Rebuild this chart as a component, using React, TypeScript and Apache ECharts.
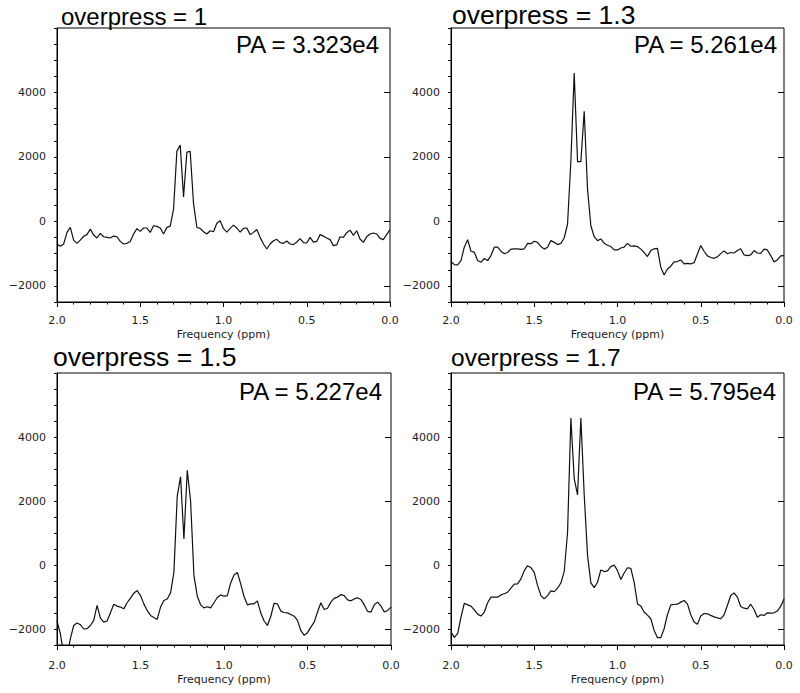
import React, { useEffect, useRef } from "react";
import * as echarts from "echarts";

// Frequency sampling grid (ppm), 2.0 -> 0.0
const PPM: number[] = Array.from({ length: 101 }, (_, i) => +(2 - 0.02 * i).toFixed(2));

const TITLES = ["overpress = 1", "overpress = 1.3", "overpress = 1.5", "overpress = 1.7"];
const PA_LABELS = ["PA = 3.323e4", "PA = 5.261e4", "PA = 5.227e4", "PA = 5.795e4"];
const X_LABELS = [0, 0.5, 1, 1.5, 2];
const Y_MAJOR = [-2000, 0, 2000, 4000];
const X_NAME = "Frequency (ppm)";

const OP_1_0 = [
  -700, -770, -700, -340, -185, -580, -680, -580, -460, -410,
  -240, -420, -515, -370, -475, -495, -515, -455, -475, -620,
  -700, -680, -620, -390, -225, -310, -205, -205, -340, -135,
  -155, -205, -390, -185, -145, 380, 2180, 2370, 760, 2150,
  2170, 550, -190, -215, -320, -390, -290, -320, -60, 20,
  -225, -330, -215, -115, -205, -330, -215, -205, -410, -340,
  -250, -495, -700, -855, -700, -600, -555, -660, -680, -610,
  -700, -720, -640, -535, -660, -670, -495, -640, -620, -410,
  -455, -515, -565, -750, -730, -475, -495, -350, -270, -430,
  -290, -545, -650, -475, -390, -360, -390, -525, -565, -410,
  -255,
];

const OP_1_3 = [
  -1245, -1340, -1350, -1215, -800, -565, -925, -955, -1215, -1265,
  -1150, -1215, -1060, -800, -800, -925, -1005, -965, -860, -850,
  -850, -870, -850, -680, -690, -615, -650, -780, -860, -800,
  -595, -650, -720, -680, -515, -80, 1875, 4600, 1855, 1855,
  3420, 1000, -135, -475, -595, -545, -680, -740, -780, -885,
  -885, -825, -800, -680, -770, -760, -780, -860, -965, -1090,
  -905, -850, -835, -1420, -1660, -1475, -1390, -1255, -1245, -1195,
  -1320, -1300, -1320, -1280, -1010, -750, -925, -1070, -1120, -1145,
  -1100, -1000, -915, -1005, -965, -980, -905, -850, -1040, -1060,
  -1040, -905, -980, -990, -860, -885, -1060, -1255, -1195, -1070,
  -1060,
];

const OP_1_5 = [
  -1750, -2145, -2800, -2850, -2300, -1890, -1815, -1865, -2000, -1990,
  -1890, -1730, -1265, -1660, -1785, -1750, -1495, -1225, -1285, -1315,
  -1370, -1180, -1035, -880, -800, -955, -1215, -1420, -1575, -1640,
  -1700, -1315, -1110, -1060, -870, -230, 2155, 2760, 810, 2960,
  2000, -330, -975, -1245, -1340, -1305, -1340, -1180, -1015, -935,
  -975, -955, -560, -310, -230, -590, -985, -1245, -1215, -1215,
  -1120, -1495, -1750, -1890, -1610, -1195, -1215, -1440, -1485, -1495,
  -1545, -1600, -1730, -2045, -2200, -2115, -1940, -1785, -1470, -1180,
  -1390, -1350, -1160, -1035, -1005, -925, -955, -1090, -1120, -1060,
  -1025, -1080, -1245, -1450, -1470, -1245, -1160, -1285, -1470, -1420,
  -1315,
];

const OP_1_7 = [
  -2095, -2260, -2145, -1630, -1195, -1245, -1285, -1400, -1535, -1595,
  -1470, -1180, -1005, -1005, -1005, -935, -900, -850, -725, -600,
  -590, -435, -175, -20, -85, -230, -645, -955, -1060, -955,
  -810, -830, -725, -560, -205, 1015, 4590, 2700, 2190, 4590,
  2200, 300, -560, -705, -540, -155, -205, -185, -50, 0,
  -175, -455, -250, -85, -105, -540, -1215, -1285, -1470, -1565,
  -1680, -2045, -2270, -2270, -1990, -1555, -1245, -1235, -1225, -1160,
  -1110, -1215, -1555, -1785, -1855, -1595, -1515, -1525, -1575, -1620,
  -1650, -1680, -1555, -1265, -955, -870, -1005, -1295, -1350, -1370,
  -1225, -1390, -1630, -1555, -1575, -1495, -1505, -1495, -1440, -1295,
  -1060,
];

const SERIES = [OP_1_0, OP_1_3, OP_1_5, OP_1_7];

// layout (pixels)
const GRIDS = [
  { left: 57, top: 28, width: 333, height: 274 },
  { left: 451, top: 28, width: 333, height: 274 },
  { left: 57, top: 373, width: 334, height: 272 },
  { left: 451, top: 373, width: 333, height: 272 },
];
const X_LABEL_MARGIN = [13, 13, 15, 15];
const X_NAME_GAP = [27, 27, 29, 29];
const TITLE_POS = [
  { x: 61, base: 24, size: 24 },
  { x: 452, base: 24, size: 26.5 },
  { x: 53, base: 366, size: 26.5 },
  { x: 451, base: 366, size: 24.5 },
];
const PA_POS = [
  { x: 379, y: 44 },
  { x: 777, y: 44 },
  { x: 382, y: 391 },
  { x: 776, y: 391 },
];

const TICK_FONT = '"DejaVu Sans", Verdana, sans-serif';
const TITLE_FONT = '"Liberation Sans", Arial, Helvetica, sans-serif';
const INK = "#000";

function buildOption() {
  const grid: any[] = [];
  const xAxis: any[] = [];
  const yAxis: any[] = [];
  const series: any[] = [];
  const graphic: any[] = [];

  GRIDS.forEach((g, k) => {
    grid.push({
      ...g,
      show: true,
      borderColor: INK,
      borderWidth: 1,
      backgroundColor: "transparent",
    });
    xAxis.push({
      type: "value",
      gridIndex: k,
      min: 0,
      max: 2,
      interval: 0.5,
      inverse: true,
      position: "bottom",
      axisLine: { show: true, onZero: false, lineStyle: { color: INK, width: 1 } },
      axisTick: { show: true, length: 5, lineStyle: { color: INK, width: 1 } },
      minorTick: { show: true, splitNumber: 5, length: 2.5, lineStyle: { color: INK, width: 1 } },
      splitLine: { show: false },
      minorSplitLine: { show: false },
      axisLabel: {
        margin: X_LABEL_MARGIN[k],
        fontFamily: TICK_FONT,
        fontSize: 11,
        color: "#222",
        formatter: (v: number) => (X_LABELS.some((t) => Math.abs(t - v) < 1e-6) ? v.toFixed(1) : ""),
      },
      name: X_NAME,
      nameLocation: "middle",
      nameGap: X_NAME_GAP[k],
      nameTextStyle: { fontFamily: TICK_FONT, fontSize: 11, color: "#222" },
    });
    yAxis.push({
      type: "value",
      gridIndex: k,
      min: -2500,
      max: 6000,
      interval: 500,
      position: "left",
      axisLine: { show: true, onZero: false, lineStyle: { color: INK, width: 1 } },
      axisTick: { show: true, length: 3, lineStyle: { color: INK, width: 1 } },
      splitLine: { show: false },
      axisLabel: {
        margin: 11,
        fontFamily: TICK_FONT,
        fontSize: 11,
        color: "#222",
        formatter: (v: number) => (Y_MAJOR.indexOf(v) >= 0 ? String(v).replace("-", "\u2212") : ""),
      },
    });
    yAxis.push({
      type: "value",
      gridIndex: k,
      min: -2500,
      max: 6000,
      position: "left",
      axisLine: { show: false },
      axisLabel: { show: false },
      splitLine: { show: false },
      axisTick: { show: true, length: 6, customValues: Y_MAJOR, lineStyle: { color: INK, width: 1 } },
    });
    series.push({
      type: "line",
      xAxisIndex: k,
      yAxisIndex: 2 * k,
      data: PPM.map((p, i) => [p, SERIES[k][i]]),
      showSymbol: false,
      symbol: "none",
      clip: true,
      silent: true,
      lineStyle: { color: "#111", width: 1.2 },
    });
    const t = TITLE_POS[k];
    graphic.push({
      type: "text",
      x: t.x,
      y: t.base - 0.33 * t.size,
      silent: true,
      style: {
        text: TITLES[k],
        font: `${t.size}px ${TITLE_FONT}`,
        fill: INK,
        align: "left",
        textAlign: "left",
        verticalAlign: "middle",
        textVerticalAlign: "middle",
      },
    });
    const p = PA_POS[k];
    graphic.push({
      type: "text",
      x: p.x,
      y: p.y,
      silent: true,
      style: {
        text: PA_LABELS[k],
        font: `24px ${TITLE_FONT}`,
        fill: INK,
        align: "right",
        textAlign: "right",
        verticalAlign: "middle",
        textVerticalAlign: "middle",
      },
    });
  });

  return {
    animation: false,
    backgroundColor: "#fff",
    grid,
    xAxis,
    yAxis,
    series,
    graphic,
  };
}

export default function App() {
  const ref = useRef<HTMLDivElement>(null);
  useEffect(() => {
    document.body.style.margin = "0";
    const chart = echarts.init(ref.current!, null, { renderer: "svg" });
    chart.setOption(buildOption() as any);
    return () => chart.dispose();
  }, []);
  return <div ref={ref} style={{ width: 800, height: 693 }} />;
}
